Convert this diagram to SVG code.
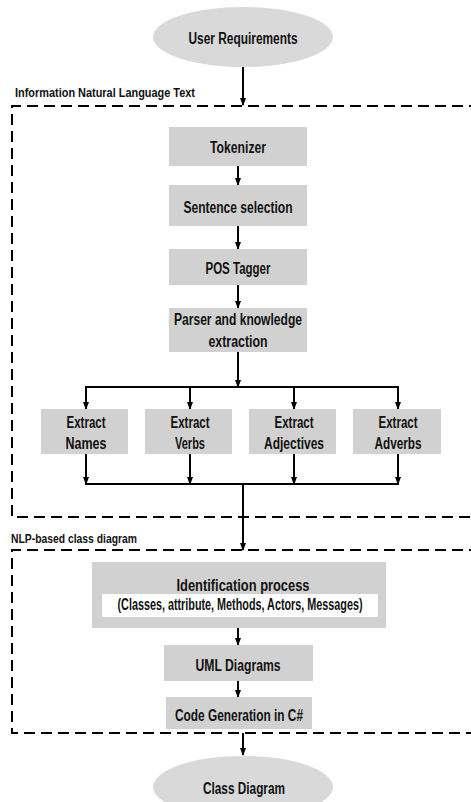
<svg xmlns="http://www.w3.org/2000/svg" width="471" height="802" viewBox="0 0 471 802">
<defs>
<marker id="arr" markerUnits="userSpaceOnUse" markerWidth="8" markerHeight="8" viewBox="0 0 8 8" refX="7" refY="4" orient="auto">
<path d="M0,1 L8,4 L0,7 Z" fill="#000"/>
</marker>
<style>
.box{fill:#d1d1d1;}
.ell{fill:#d9d9d9;}
.t{font-family:"Liberation Sans",Arial,sans-serif;font-weight:bold;font-size:16px;fill:#111;text-anchor:middle;}
.lbl{font-family:"Liberation Sans",Arial,sans-serif;font-weight:bold;font-size:13px;fill:#111;}
.dash{fill:none;stroke:#000;stroke-width:2;stroke-dasharray:11 6;}
.c{fill:none;stroke:#000;stroke-width:2;}
.ca{fill:none;stroke:#000;stroke-width:2;marker-end:url(#arr);}
</style>
</defs>
<rect width="471" height="802" fill="#fff"/>
<g id="containers">
<path class="dash" d="M480,106 H12 V517 H480"/>
<text class="lbl" x="15" y="97" textLength="180" lengthAdjust="spacingAndGlyphs">Information Natural Language Text</text>
<path class="dash" d="M480,550 H12 V733 H480"/>
<text class="lbl" x="11" y="543" textLength="126" lengthAdjust="spacingAndGlyphs">NLP-based class diagram</text>
</g>
<g id="connectors">
<line class="ca" x1="243" y1="67" x2="243" y2="105"/>
<line class="ca" x1="238" y1="166" x2="238" y2="185"/>
<line class="ca" x1="238" y1="226" x2="238" y2="249"/>
<line class="ca" x1="238" y1="285" x2="238" y2="308"/>
<line class="ca" x1="238" y1="352" x2="238" y2="387"/>
<line class="c" x1="85" y1="387" x2="399" y2="387"/>
<line class="ca" x1="86" y1="386" x2="86" y2="409"/>
<line class="ca" x1="190" y1="386" x2="190" y2="409"/>
<line class="ca" x1="294" y1="386" x2="294" y2="409"/>
<line class="ca" x1="398" y1="386" x2="398" y2="409"/>
<line class="ca" x1="86" y1="454" x2="86" y2="484"/>
<line class="ca" x1="190" y1="454" x2="190" y2="484"/>
<line class="ca" x1="294" y1="454" x2="294" y2="484"/>
<line class="ca" x1="398" y1="454" x2="398" y2="484"/>
<line class="c" x1="85" y1="484" x2="399" y2="484"/>
<line class="ca" x1="243" y1="483" x2="243" y2="550"/>
<line class="ca" x1="238" y1="628" x2="238" y2="645"/>
<line class="ca" x1="238" y1="681" x2="238" y2="697"/>
<line class="ca" x1="243" y1="733" x2="243" y2="755"/>
</g>
<g id="user-requirements">
<ellipse class="ell" cx="243" cy="37" rx="90" ry="30"/>
<text class="t" x="243" y="44" textLength="109" lengthAdjust="spacingAndGlyphs">User Requirements</text>
</g>
<g id="tokenizer">
<rect class="box" x="169" y="127" width="138" height="39"/>
<text class="t" x="238" y="153" textLength="56" lengthAdjust="spacingAndGlyphs">Tokenizer</text>
</g>
<g id="sentence-selection">
<rect class="box" x="169" y="185" width="138" height="41"/>
<text class="t" x="238" y="213" textLength="109" lengthAdjust="spacingAndGlyphs">Sentence selection</text>
</g>
<g id="pos-tagger">
<rect class="box" x="169" y="249" width="138" height="36"/>
<text class="t" x="238" y="274" textLength="65" lengthAdjust="spacingAndGlyphs">POS Tagger</text>
</g>
<g id="parser">
<rect class="box" x="169" y="308" width="138" height="44"/>
<text class="t" x="238" y="325" textLength="128" lengthAdjust="spacingAndGlyphs">Parser and knowledge</text>
<text class="t" x="238" y="347" textLength="59" lengthAdjust="spacingAndGlyphs">extraction</text>
</g>
<g id="extract-names">
<rect class="box" x="41" y="409" width="87" height="45"/>
<text class="t" x="86" y="428" textLength="39" lengthAdjust="spacingAndGlyphs">Extract</text>
<text class="t" x="86" y="449" textLength="41" lengthAdjust="spacingAndGlyphs">Names</text>
</g>
<g id="extract-verbs">
<rect class="box" x="145" y="409" width="87" height="45"/>
<text class="t" x="190" y="428" textLength="39" lengthAdjust="spacingAndGlyphs">Extract</text>
<text class="t" x="190" y="449" textLength="30" lengthAdjust="spacingAndGlyphs">Verbs</text>
</g>
<g id="extract-adjectives">
<rect class="box" x="249" y="409" width="87" height="45"/>
<text class="t" x="294" y="428" textLength="39" lengthAdjust="spacingAndGlyphs">Extract</text>
<text class="t" x="294" y="449" textLength="60" lengthAdjust="spacingAndGlyphs">Adjectives</text>
</g>
<g id="extract-adverbs">
<rect class="box" x="353" y="409" width="88" height="45"/>
<text class="t" x="398" y="428" textLength="39" lengthAdjust="spacingAndGlyphs">Extract</text>
<text class="t" x="398" y="449" textLength="47" lengthAdjust="spacingAndGlyphs">Adverbs</text>
</g>
<g id="identification-process">
<rect class="box" x="92" y="562" width="294" height="66"/>
<rect x="102" y="594" width="276" height="23" fill="#fff"/>
<text class="t" x="243" y="591" textLength="133" lengthAdjust="spacingAndGlyphs">Identification process</text>
<text class="t" x="240" y="610" font-size="13" textLength="245" lengthAdjust="spacingAndGlyphs">(Classes, attribute, Methods, Actors, Messages)</text>
</g>
<g id="uml-diagrams">
<rect class="box" x="164" y="645" width="149" height="36"/>
<text class="t" x="238" y="671" textLength="85" lengthAdjust="spacingAndGlyphs">UML Diagrams</text>
</g>
<g id="code-generation">
<rect class="box" x="166" y="697" width="146" height="32"/>
<text class="t" x="239" y="721" textLength="128" lengthAdjust="spacingAndGlyphs">Code Generation in C#</text>
</g>
<g id="class-diagram">
<ellipse class="ell" cx="243" cy="787" rx="90" ry="31"/>
<text class="t" x="244" y="794" textLength="82" lengthAdjust="spacingAndGlyphs">Class Diagram</text>
</g>
</svg>
